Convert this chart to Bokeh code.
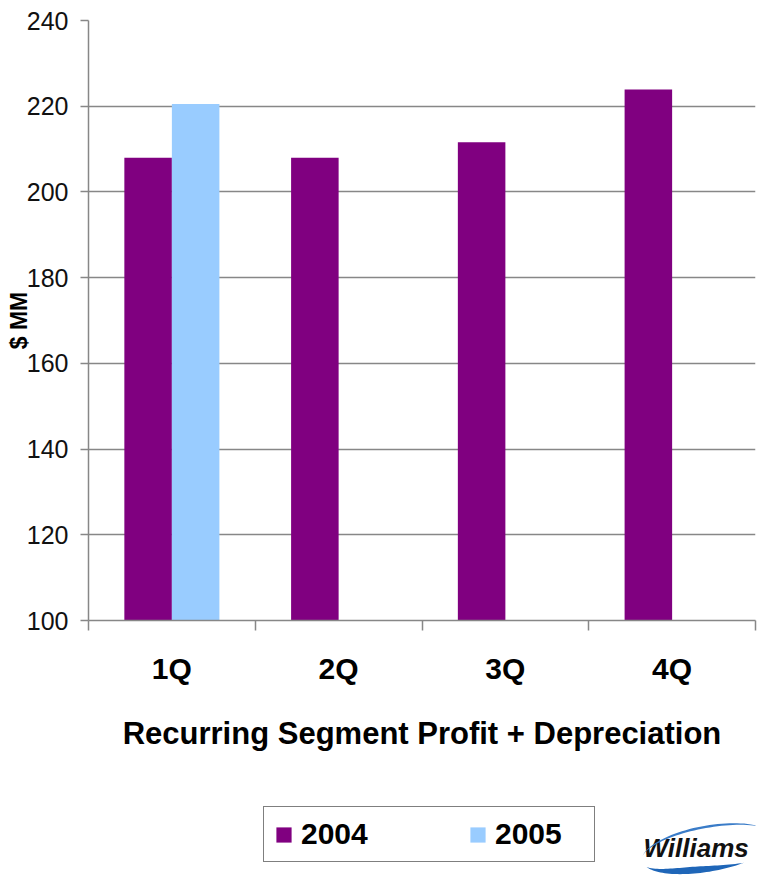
import math
import numpy as np
from bokeh.plotting import figure
from bokeh.layouts import column
from bokeh.models import (Range1d, FixedTicker, Label, Legend, LegendItem,
                          PolyAnnotation, ColumnDataSource)
from bokeh.transform import dodge
from bokeh.embed import file_html
from bokeh.resources import INLINE

# ---- data ----
quarters = ["1Q", "2Q", "3Q", "4Q"]
values_2004 = [208.0, 208.0, 211.6, 223.9]
values_2005 = [220.5, float("nan"), float("nan"), float("nan")]
series_labels = ["2004", "2005"]
y_ticks = [100, 120, 140, 160, 180, 200, 220, 240]
x_title = "Recurring Segment Profit + Depreciation"
y_title = "$ MM"
logo_text = "Williams"

# ---- styles ----
PURPLE = "#800080"
LIGHTBLUE = "#99CCFF"
GRAY = "#878787"
FONT = "Liberation Sans"

n = len(quarters)
centers = [i + 0.5 for i in range(n)]          # category slot centres on a 0..n axis
edges = list(range(n + 1))                      # category slot boundaries

source = ColumnDataSource(dict(quarter=quarters, xc=centers, v2004=values_2004, v2005=values_2005))

# ================= main chart =================
p = figure(width=759, height=780,
           x_range=Range1d(0, n), y_range=Range1d(y_ticks[0], y_ticks[-1]),
           output_backend="svg", toolbar_location=None,
           x_axis_location="below", y_axis_location="left",
           min_border_left=88, min_border_right=4, min_border_top=20, min_border_bottom=160)
p.outline_line_color = None
p.background_fill_color = "white"
p.border_fill_color = "white"
p.xgrid.visible = False
p.ygrid.grid_line_color = GRAY
p.ygrid.grid_line_width = 1.5
p.ygrid.ticker = FixedTicker(ticks=y_ticks)

yax = p.yaxis[0]
yax.ticker = FixedTicker(ticks=y_ticks)
yax.axis_line_color = GRAY
yax.axis_line_width = 1.5
yax.major_tick_line_color = GRAY
yax.major_tick_line_width = 1.5
yax.major_tick_out = 8
yax.major_tick_in = 0
yax.minor_tick_out = 0
yax.minor_tick_in = 0
yax.major_label_text_font = FONT
yax.major_label_text_font_size = "25px"
yax.major_label_text_color = "#111111"
yax.major_label_standoff = 12
yax.axis_label = y_title
yax.axis_label_text_font = FONT
yax.axis_label_text_font_size = "23px"
yax.axis_label_text_font_style = "bold"
yax.axis_label_text_color = "black"
yax.axis_label_standoff = -8

# x axis: labels at slot centres, tick marks (minor) at slot boundaries
xax = p.xaxis[0]
xax.ticker = FixedTicker(ticks=centers, minor_ticks=edges)
xax.major_label_overrides = {c: q for c, q in zip(centers, quarters)}
xax.axis_line_color = GRAY
xax.axis_line_width = 1.5
xax.major_tick_line_color = None
xax.major_tick_out = 0
xax.major_tick_in = 0
xax.minor_tick_line_color = GRAY
xax.minor_tick_line_width = 1.5
xax.minor_tick_out = 10
xax.minor_tick_in = 0
xax.major_label_text_font = FONT
xax.major_label_text_font_size = "30px"
xax.major_label_text_font_style = "bold"
xax.major_label_text_color = "black"
xax.major_label_standoff = 21
xax.axis_label = x_title
xax.axis_label_text_font = FONT
xax.axis_label_text_font_size = "31px"
xax.axis_label_text_font_style = "bold"
xax.axis_label_text_color = "black"
xax.axis_label_standoff = 28

p.vbar(x=dodge("xc", -0.1425), top="v2004", bottom=y_ticks[0],
       width=0.285, source=source, fill_color=PURPLE, line_color=None)
p.vbar(x=dodge("xc", 0.1425), top="v2005", bottom=y_ticks[0],
       width=0.285, source=source, fill_color=LIGHTBLUE, line_color=None)

# ================= legend + logo strip =================
# (its frame is aligned with the chart frame above: left edge at page x=88)
q = figure(width=759, height=113, x_range=Range1d(0, n), y_range=Range1d(0, 1),
           output_backend="svg", toolbar_location=None,
           x_axis_location=None, y_axis_location=None,
           min_border_left=0, min_border_right=0, min_border_top=0, min_border_bottom=0)
q.outline_line_color = None
q.grid.visible = False
q.background_fill_color = "white"
q.border_fill_color = "white"

# legend swatches use the same series (hidden, styled identically)
k1 = q.vbar(x=dodge("xc", -0.1425), top="v2004", bottom=y_ticks[0], width=0.285,
            source=source, fill_color=PURPLE, line_color=None, visible=False)
k2 = q.vbar(x=dodge("xc", 0.1425), top="v2005", bottom=y_ticks[0], width=0.285,
            source=source, fill_color=LIGHTBLUE, line_color=None, visible=False)

legend = Legend(items=[LegendItem(label=series_labels[0], renderers=[k1]),
                       LegendItem(label=series_labels[1], renderers=[k2])],
                location=(175, 31), orientation="horizontal",
                border_line_color="black", border_line_width=1.5,
                background_fill_color="white", background_fill_alpha=1.0,
                padding=10, margin=0, spacing=78,
                glyph_width=19, glyph_height=19, label_standoff=8, label_width=89,
                label_text_font=FONT, label_text_font_size="30px",
                label_text_font_style="bold", label_text_color="black")
q.add_layout(legend)

q.add_layout(Label(x=555, y=46, x_units="screen", y_units="screen", text=logo_text,
                   text_font=FONT, text_font_style="bold italic", text_font_size="26px",
                   text_color="#111111", text_baseline="alphabetic"))


def crescent(cx, cy, rx, ry, rot, a0, a1, w, npts=40):
    ts = np.linspace(math.radians(a0), math.radians(a1), npts)
    s = np.linspace(0, 1, npts)
    d = w * np.sin(np.pi * s)
    def pt(t, ex, ey):
        x = ex * np.cos(t)
        y = ey * np.sin(t)
        return (cx + x * math.cos(rot) - y * math.sin(rot), cy + x * math.sin(rot) + y * math.cos(rot))
    ox, oy = pt(ts, rx, ry)
    ix, iy = pt(ts[::-1], rx - d[::-1], ry - d[::-1])
    return [float(v) for v in np.concatenate([ox, ix])], [float(v) for v in np.concatenate([oy, iy])]

lcx, lcy = 708 - 88, 893 - 850
xs, ys = crescent(lcx, lcy, 66, 21, math.radians(10), 195, 300, 7)
q.add_layout(PolyAnnotation(xs=xs, ys=ys, xs_units="screen", ys_units="screen",
                            fill_color="#1f66b8", fill_alpha=1, line_color=None))
xs, ys = crescent(lcx, lcy, 68, 25, math.radians(10), 30, 165, 2.5)
q.add_layout(PolyAnnotation(xs=xs, ys=ys, xs_units="screen", ys_units="screen",
                            fill_color="#3a7cc8", fill_alpha=1, line_color=None))

open("out.html", "w").write(file_html(column(p, q, spacing=0), INLINE))
